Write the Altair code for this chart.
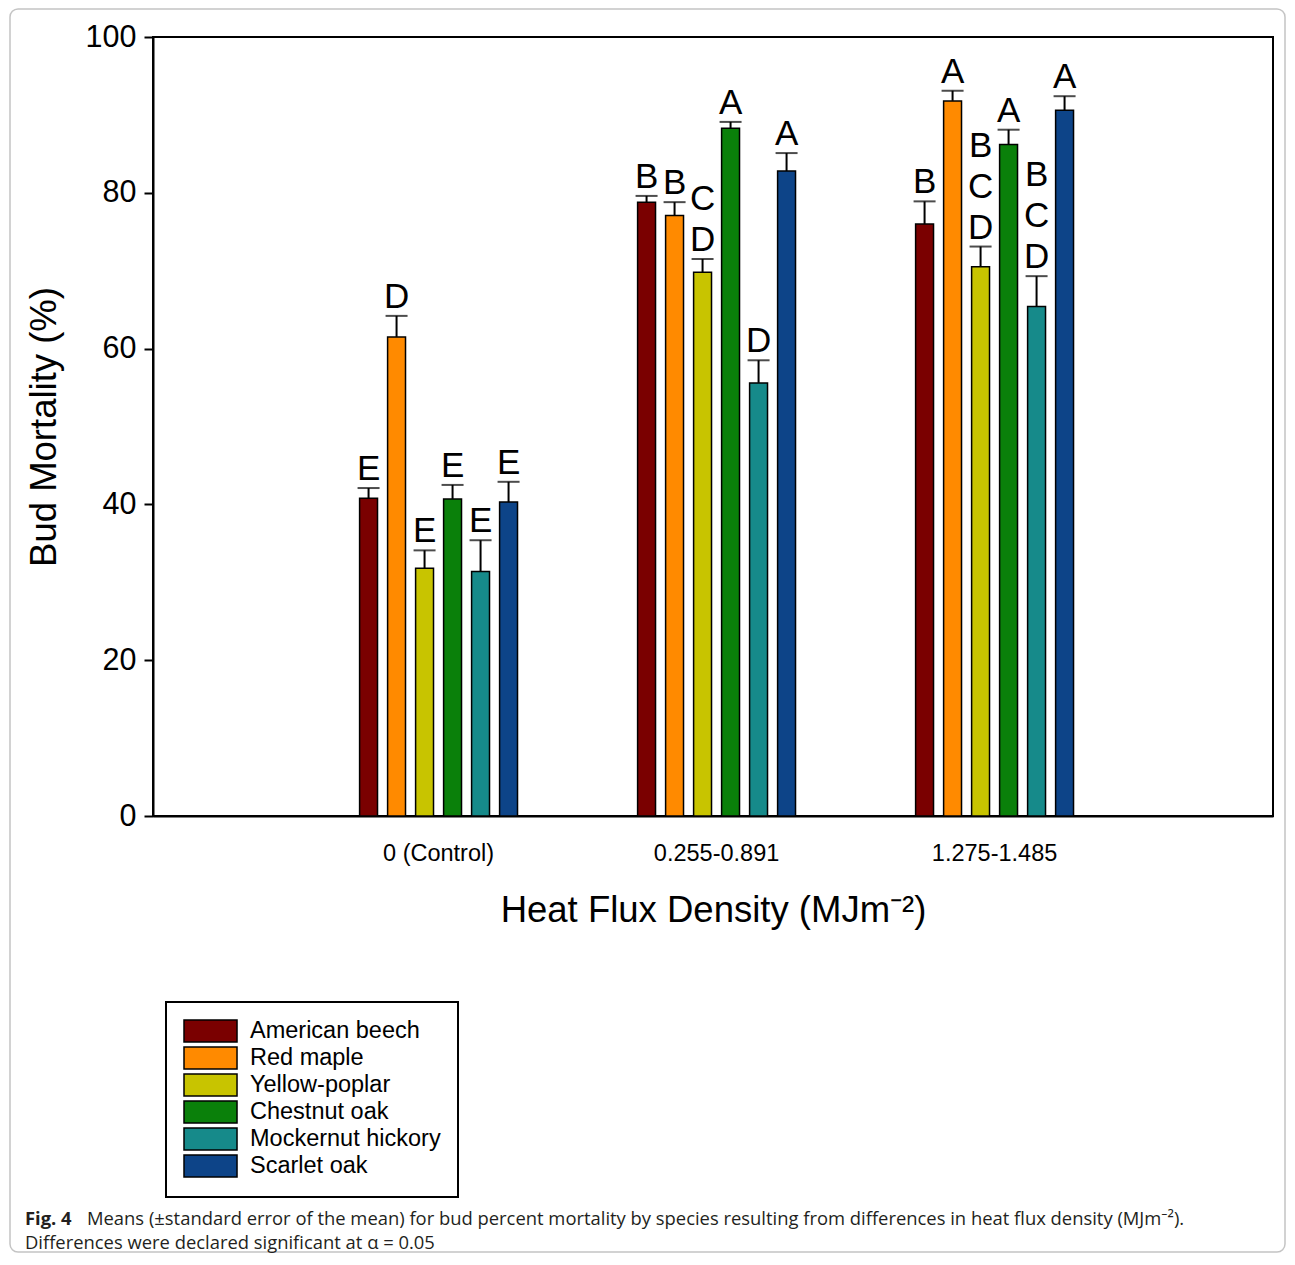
import altair as alt
import pandas as pd

FONT = "Liberation Sans, Arial, sans-serif"
CAP_FONT = "Open Sans, Noto Sans, sans-serif"

groups = ["0 (Control)", "0.255-0.891", "1.275-1.485"]
species = ["American beech", "Red maple", "Yellow-poplar", "Chestnut oak",
           "Mockernut hickory", "Scarlet oak"]
colors = ["#7a0000", "#ff8a00", "#c8c400", "#0a800a", "#168a8a", "#0d4488"]

mean_control = [40.8, 61.5, 31.8, 40.7, 31.4, 40.3]
mean_mid = [78.8, 77.1, 69.8, 88.3, 55.6, 82.8]
mean_high = [76.0, 91.8, 70.5, 86.2, 65.4, 90.6]

upper_control = [42.1, 64.2, 34.1, 42.5, 35.4, 42.9]
upper_mid = [79.6, 78.8, 71.5, 89.1, 58.5, 85.1]
upper_high = [78.9, 93.1, 73.1, 88.1, 69.3, 92.4]

# significance letters; a multi-letter group is stacked vertically (first letter on top)
letters_control = ["E", "D", "E", "E", "E", "E"]
letters_mid = ["B", "B", "CD", "A", "D", "A"]
letters_high = ["B", "A", "BCD", "A", "BCD", "A"]

y_ticks = [0, 20, 40, 60, 80, 100]

caption_bold = "Fig. 4"
caption_line1 = ("Means (\u00b1standard error of the mean) for bud percent mortality by species "
                 "resulting from differences in heat flux density (MJm\u207b\u00b2).")
caption_line2 = "Differences were declared significant at \u03b1 = 0.05"

rows = []
lbl_rows = []
for g, ms, us, ls in zip(groups,
                         [mean_control, mean_mid, mean_high],
                         [upper_control, upper_mid, upper_high],
                         [letters_control, letters_mid, letters_high]):
    for s, m, u, l in zip(species, ms, us, ls):
        rows.append({"group": g, "species": s, "mean": m, "upper": u})
        n = len(l)
        for i, ch in enumerate(l):
            lbl_rows.append({"group": g, "species": s, "upper": u,
                             "letter": ch, "k": n - 1 - i})
df = pd.DataFrame(rows)
lbl_df = pd.DataFrame(lbl_rows)

x_enc = alt.X(
    "group:N", sort=groups,
    scale=alt.Scale(paddingInner=0.3957, paddingOuter=0.7122, align=0.509),
    axis=alt.Axis(title="Heat Flux Density (MJm\u207b\u00b2)", labelAngle=0, ticks=False,
                  labelFontSize=23.5, labelPadding=25, titleFontSize=36.5, titlePadding=28),
)
xoff = alt.XOffset("species:N", sort=species,
                   scale=alt.Scale(paddingInner=0.36, paddingOuter=0.18))
y_scale = alt.Scale(domain=[0, 100], nice=False)

base = alt.Chart(df).encode(x=x_enc, xOffset=xoff)

bars = base.mark_bar(stroke="black", strokeWidth=1.5).encode(
    y=alt.Y("mean:Q", scale=y_scale,
            axis=alt.Axis(title="Bud Mortality (%)", values=y_ticks, tickSize=9,
                          labelFontSize=30.5, labelPadding=8, titleFontSize=36.5,
                          titlePadding=22)),
    color=alt.Color(
        "species:N", sort=species,
        scale=alt.Scale(domain=species, range=colors),
        legend=alt.Legend(
            title=None, orient="none", direction="vertical", legendX=13, legendY=965,
            symbolType="M-1,-1H3.82V1H-1Z", symbolSize=484,
            symbolStrokeColor="black", symbolStrokeWidth=1.5, symbolOpacity=1,
            labelFontSize=23.5, labelFont=FONT, labelColor="black", labelOffset=43,
            labelLimit=400, padding=17, rowPadding=-1, strokeColor="black",
        ),
    ),
)

rules = base.mark_rule(color="black", strokeWidth=2).encode(
    y=alt.Y("mean:Q", scale=y_scale), y2="upper:Q")
caps = base.mark_tick(color="black", size=22, thickness=2).encode(
    y=alt.Y("upper:Q", scale=y_scale))

lbl_base = alt.Chart(lbl_df).encode(
    x=x_enc, xOffset=xoff, y=alt.Y("upper:Q", scale=y_scale), text="letter:N")
label_layers = [
    lbl_base.transform_filter(alt.datum.k == k).mark_text(
        baseline="bottom", dy=-1 - 41 * k, fontSize=35, font=FONT, color="black")
    for k in range(3)
]

frame = alt.Chart(alt.Data(values=[{"k": 1}])).mark_rect(
    filled=False, stroke="#c4c4c4", strokeWidth=1.5, cornerRadius=8
).encode(x=alt.value(-143), x2=alt.value(1132), y=alt.value(-28), y2=alt.value(1215))

cap_data = alt.Data(values=[{"b": caption_bold, "l1": caption_line1, "l2": caption_line2}])
cap_bold = alt.Chart(cap_data).mark_text(
    align="left", baseline="alphabetic", font=CAP_FONT, fontWeight="bold",
    fontSize=18.4, color="#231f20"
).encode(x=alt.value(-128), y=alt.value(1188), text="b:N")
cap_l1 = alt.Chart(cap_data).mark_text(
    align="left", baseline="alphabetic", font=CAP_FONT, fontSize=18.4, color="#231f20"
).encode(x=alt.value(-66), y=alt.value(1188), text="l1:N")
cap_l2 = alt.Chart(cap_data).mark_text(
    align="left", baseline="alphabetic", font=CAP_FONT, fontSize=18.4, color="#231f20"
).encode(x=alt.value(-128), y=alt.value(1212), text="l2:N")

chart = alt.layer(frame, bars, rules, caps, *label_layers, cap_bold, cap_l1, cap_l2).properties(
    width=1120, height=779,
    autosize=alt.AutoSizeParams(type="none"),
    padding={"left": 145, "top": 29, "right": 13, "bottom": 438},
).configure_view(stroke="black", strokeWidth=2).configure_axis(
    labelFont=FONT, titleFont=FONT, labelColor="black", titleColor="black",
    domainColor="black", tickColor="black", domainWidth=2, tickWidth=2,
    grid=False, titleFontWeight="normal",
).configure_legend(strokeWidth=2)

chart.save("out.html", embed_options={"renderer": "svg", "actions": False})
